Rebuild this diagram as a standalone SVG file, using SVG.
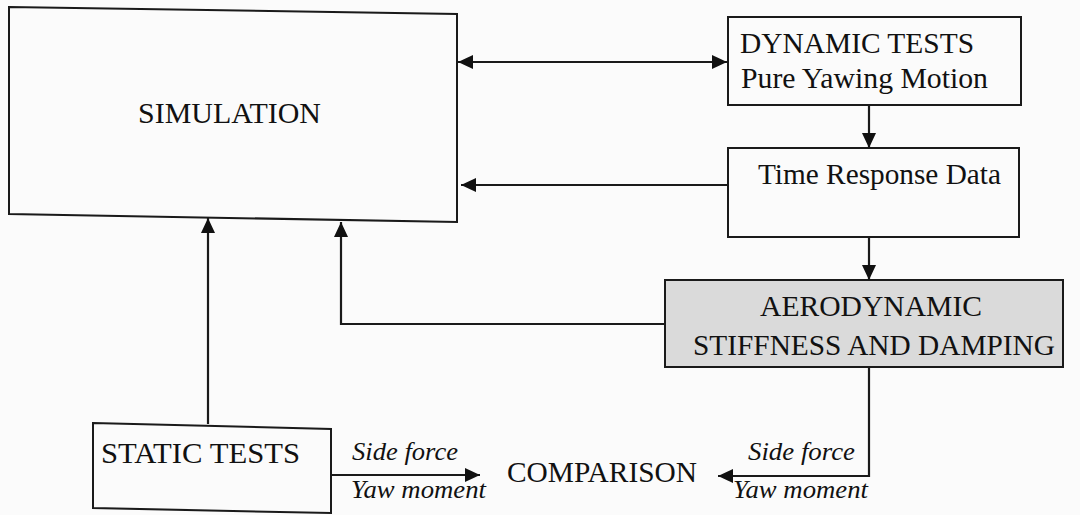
<svg xmlns="http://www.w3.org/2000/svg" width="1080" height="515" viewBox="0 0 1080 515">
<defs>
<style>
.box{fill:#fbfbfb;stroke:#1a1a1a;stroke-width:2}
.grey{fill:#dadada;stroke:#1a1a1a;stroke-width:2}
.t{font-family:"Liberation Serif","Times New Roman",serif;font-size:29px;fill:#111}
.i{font-family:"Liberation Serif","Times New Roman",serif;font-size:26px;font-style:italic;fill:#111}
.c{fill:none;stroke:#1a1a1a;stroke-width:2.2}
</style>
<marker id="ah" viewBox="0 0 15 14" refX="15" refY="7" markerWidth="15" markerHeight="14" markerUnits="userSpaceOnUse" orient="auto-start-reverse">
<path d="M0,0 L15,7 L0,14 z" fill="#111"/>
</marker>
</defs>
<rect width="1080" height="515" fill="#fbfbfb"/>
<g id="simulation">
<polygon class="box" points="9,7 457,14 457,222 9,214"/>
<text class="t" x="138" y="123" textLength="183" lengthAdjust="spacingAndGlyphs">SIMULATION</text>
</g>
<g id="dynamic-tests">
<rect class="box" x="728" y="17" width="293" height="88"/>
<text class="t" x="740" y="53" textLength="234" lengthAdjust="spacingAndGlyphs">DYNAMIC TESTS</text>
<text class="t" x="741" y="88" textLength="247" lengthAdjust="spacingAndGlyphs">Pure Yawing Motion</text>
</g>
<g id="time-response">
<rect class="box" x="728" y="148" width="291" height="89"/>
<text class="t" x="758" y="184" textLength="243" lengthAdjust="spacingAndGlyphs">Time Response Data</text>
</g>
<g id="aerodynamic">
<rect class="grey" x="665" y="280" width="398" height="87"/>
<text class="t" x="760" y="316" textLength="222" lengthAdjust="spacingAndGlyphs">AERODYNAMIC</text>
<text class="t" x="693" y="355" textLength="362" lengthAdjust="spacingAndGlyphs">STIFFNESS AND DAMPING</text>
</g>
<g id="static-tests">
<polygon class="box" points="93,423 331,429 331,513 93,508"/>
<text class="t" x="101" y="463" textLength="199" lengthAdjust="spacingAndGlyphs">STATIC TESTS</text>
</g>
<g id="comparison">
<text class="t" x="507" y="482" textLength="190" lengthAdjust="spacingAndGlyphs">COMPARISON</text>
</g>
<g id="connectors">
<line class="c" x1="458" y1="62" x2="727" y2="62" marker-start="url(#ah)" marker-end="url(#ah)"/>
<line class="c" x1="869" y1="105" x2="869" y2="148" marker-end="url(#ah)"/>
<line class="c" x1="728" y1="185" x2="461" y2="185" marker-end="url(#ah)"/>
<line class="c" x1="869" y1="237" x2="869" y2="280" marker-end="url(#ah)"/>
<polyline class="c" points="665,324 341,324 341,222" marker-end="url(#ah)"/>
<line class="c" x1="208" y1="424" x2="208" y2="218" marker-end="url(#ah)"/>
<line class="c" x1="331" y1="475" x2="480" y2="475" marker-end="url(#ah)"/>
<polyline class="c" points="869,367 869,476 718,476" marker-end="url(#ah)"/>
<text class="i" x="352" y="460" textLength="106" lengthAdjust="spacingAndGlyphs">Side force</text>
<text class="i" x="351" y="498" textLength="135" lengthAdjust="spacingAndGlyphs">Yaw moment</text>
<text class="i" x="748" y="460" textLength="107" lengthAdjust="spacingAndGlyphs">Side force</text>
<text class="i" x="733" y="498" textLength="135" lengthAdjust="spacingAndGlyphs">Yaw moment</text>
</g>
</svg>
